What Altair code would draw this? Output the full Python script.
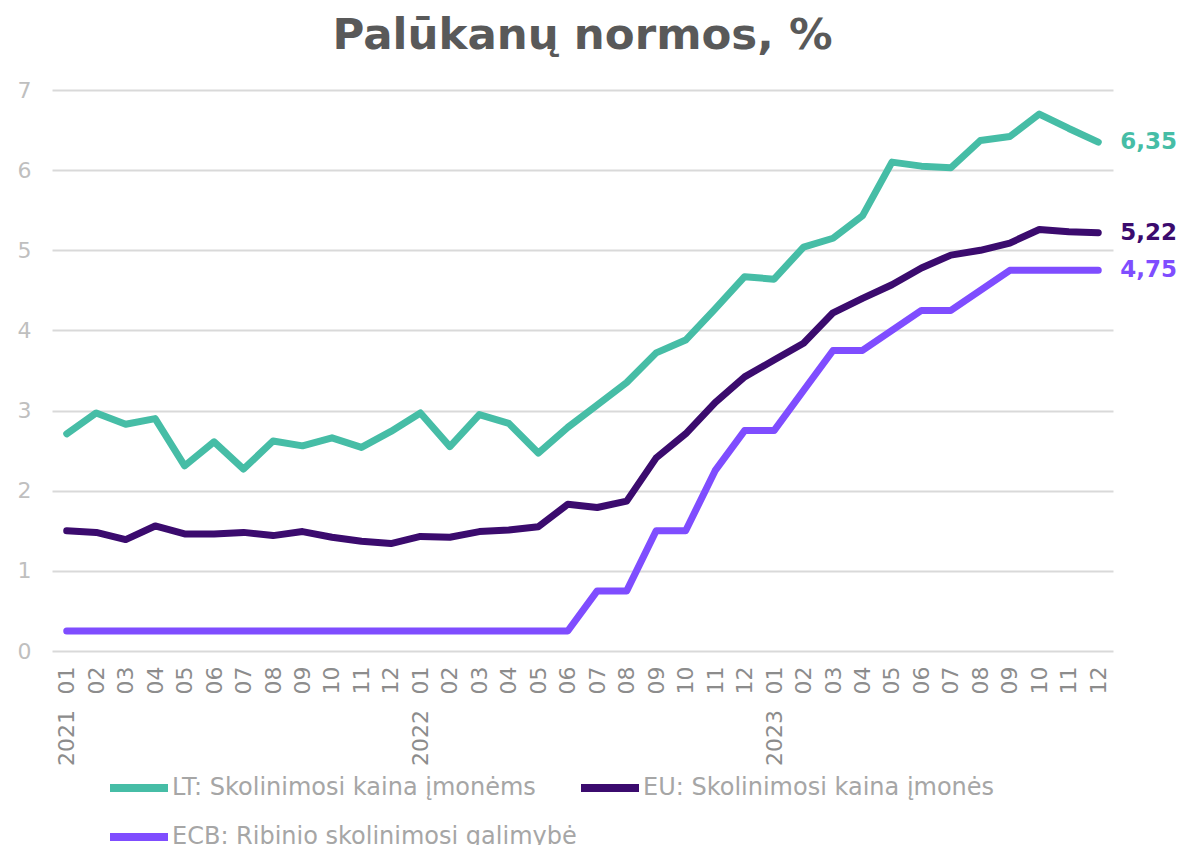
import altair as alt
import pandas as pd

periods = [
    "2021-01", "2021-02", "2021-03", "2021-04", "2021-05", "2021-06",
    "2021-07", "2021-08", "2021-09", "2021-10", "2021-11", "2021-12",
    "2022-01", "2022-02", "2022-03", "2022-04", "2022-05", "2022-06",
    "2022-07", "2022-08", "2022-09", "2022-10", "2022-11", "2022-12",
    "2023-01", "2023-02", "2023-03", "2023-04", "2023-05", "2023-06",
    "2023-07", "2023-08", "2023-09", "2023-10", "2023-11", "2023-12",
]

series_names = [
    "LT: Skolinimosi kaina įmonėms",
    "EU: Skolinimosi kaina įmonės",
    "ECB: Ribinio skolinimosi galimybė",
]
series_colors = ["#46BDA6", "#3B0B6E", "#7F4DFF"]
# legend grid is filled column by column: LT, ECB in the first column, EU in the second
legend_order = [series_names[0], series_names[2], series_names[1]]
legend_colors = [series_colors[0], series_colors[2], series_colors[1]]

lt_values = [2.71, 2.97, 2.83, 2.90, 2.31, 2.61, 2.27, 2.62, 2.56, 2.66, 2.54, 2.74,
             2.97, 2.55, 2.95, 2.84, 2.47, 2.79, 3.07, 3.35, 3.72, 3.88, 4.27, 4.67,
             4.64, 5.04, 5.15, 5.43, 6.10, 6.05, 6.03, 6.37, 6.42, 6.70, 6.52, 6.35]
eu_values = [1.50, 1.48, 1.39, 1.56, 1.46, 1.46, 1.48, 1.44, 1.49, 1.42, 1.37, 1.34,
             1.43, 1.42, 1.49, 1.51, 1.55, 1.83, 1.79, 1.87, 2.41, 2.71, 3.10, 3.42,
             3.63, 3.84, 4.22, 4.40, 4.57, 4.78, 4.94, 5.00, 5.09, 5.26, 5.23, 5.22]
ecb_values = [0.25, 0.25, 0.25, 0.25, 0.25, 0.25, 0.25, 0.25, 0.25, 0.25, 0.25, 0.25,
              0.25, 0.25, 0.25, 0.25, 0.25, 0.25, 0.75, 0.75, 1.50, 1.50, 2.25, 2.75,
              2.75, 3.25, 3.75, 3.75, 4.00, 4.25, 4.25, 4.50, 4.75, 4.75, 4.75, 4.75]

y_ticks = [0, 1, 2, 3, 4, 5, 6, 7]

rows = []
for name, vals in zip(series_names, [lt_values, eu_values, ecb_values]):
    for p, v in zip(periods, vals):
        rows.append({"period": p, "value": v, "series": name,
                     "lab": f"{v:.2f}".replace(".", ",")})
df = pd.DataFrame(rows)

color_scale = alt.Scale(domain=legend_order, range=legend_colors)
FONT = "DejaVu Sans"

label_expr = ("substring(datum.label,5,7) == '01' ? substring(datum.label,0,4) + '\u2002\u2009' + "
              "substring(datum.label,5,7) : substring(datum.label,5,7)")

x_enc = alt.X("period:O", title=None, sort=periods,
              axis=alt.Axis(labelAngle=270, labelAlign="right", labelBaseline="middle",
                            labelPadding=15, labelFontSize=22, labelColor="#8C8C8C",
                            labelFont=FONT, ticks=False, domain=False, grid=False,
                            labelExpr=label_expr))
y_enc = alt.Y("value:Q", title=None,
              scale=alt.Scale(domain=[0, 7], nice=False),
              axis=alt.Axis(values=y_ticks, format="d", labelFontSize=22,
                            labelColor="#BFBFBF", labelFont=FONT, labelPadding=21,
                            ticks=False, domain=False,
                            gridColor="#D9D9D9", gridWidth=2))

lines = alt.Chart(df).mark_line(strokeWidth=7, strokeCap="round", strokeJoin="round").encode(
    x=x_enc,
    y=y_enc,
    color=alt.Color("series:N", scale=color_scale,
                    legend=alt.Legend(title=None, orient="none", legendX=54, legendY=665,
                                      columns=2, symbolType="stroke", symbolSize=3364,
                                      symbolStrokeWidth=8, labelFontSize=24,
                                      labelColor="#A6A6A6", labelFont=FONT, labelOffset=0,
                                      columnPadding=-19, rowPadding=-21, padding=0,
                                      labelLimit=800)),
    detail="series:N",
)

end_labels = alt.Chart(df).transform_filter(
    alt.datum.period == periods[-1]
).mark_text(align="left", baseline="middle", dx=22, fontSize=23, fontWeight="bold",
            font=FONT).encode(
    x=alt.X("period:O", sort=periods),
    y=alt.Y("value:Q"),
    text="lab:N",
    color=alt.Color("series:N", scale=color_scale, legend=None),
)

chart = alt.layer(lines, end_labels).properties(
    width=1061,
    height=561,
    title=alt.TitleParams("Palūkanų normos, %", fontSize=43.5, fontWeight="bold",
                          color="#595959", font=FONT, anchor="middle", offset=21),
    padding={"left": 9, "top": 5, "right": 0, "bottom": 0},
).configure_view(stroke=None)

chart.save("out.html", embed_options={"renderer": "svg", "actions": False})
